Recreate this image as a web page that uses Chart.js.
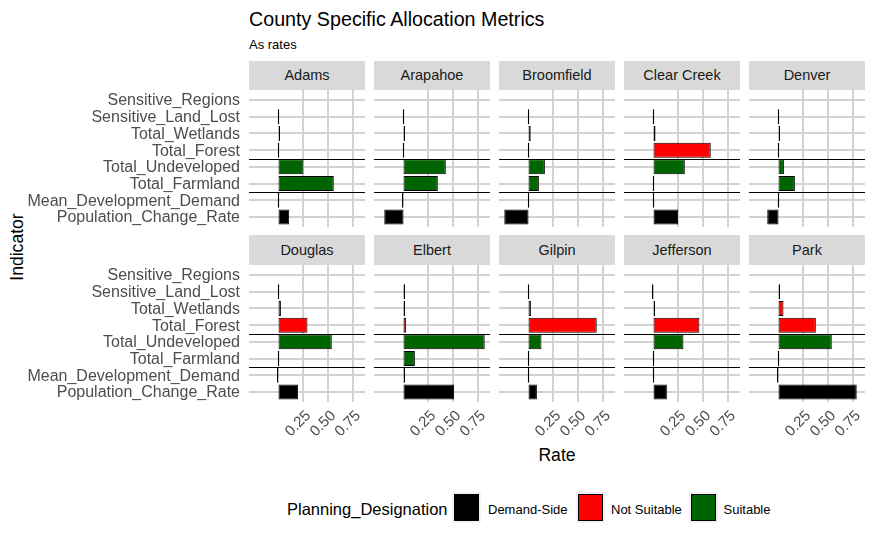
<!DOCTYPE html>
<html><head><meta charset="utf-8">
<script src="https://cdn.jsdelivr.net/npm/chart.js@4.4.1/dist/chart.umd.min.js"></script>
<style>
html,body{margin:0;padding:0;background:#fff;width:875px;height:540px;overflow:hidden;font-family:"Liberation Sans",Arial,sans-serif;}
.t{position:absolute;white-space:nowrap;line-height:1;}
.strip{position:absolute;background:#D9D9D9;color:#1A1A1A;font-size:14.5px;text-align:center;}
.key{position:absolute;width:23px;height:25px;border:1px solid #000;box-shadow:0 0 0 2px #F2F2F2;}
canvas{position:absolute;}
</style></head><body>
<div class="t" style="left:249px;top:9.5px;font-size:19.7px;color:#000;">County Specific Allocation Metrics</div>
<div class="t" style="left:249px;top:38.3px;font-size:13px;color:#000;">As rates</div>
<div class="t" style="left:507px;width:100px;text-align:center;top:446.8px;font-size:17.6px;color:#000;">Rate</div>
<div class="t" style="left:-33px;top:237px;width:100px;height:20px;line-height:20px;text-align:center;font-size:17.6px;color:#000;transform:rotate(-90deg);">Indicator</div>
<div id="legend"></div>
<div id="panels"></div>
<script>
// ---- data ----
const indicators = ['Sensitive_Regions','Sensitive_Land_Lost','Total_Wetlands','Total_Forest','Total_Undeveloped','Total_Farmland','Mean_Development_Demand','Population_Change_Rate'];
const indicatorDesignation = ['Not Suitable','Demand-Side','Not Suitable','Not Suitable','Suitable','Suitable','Demand-Side','Demand-Side'];
const counties = ['Adams','Arapahoe','Broomfield','Clear Creek','Denver','Douglas','Elbert','Gilpin','Jefferson','Park'];
const adams      = [null, 0,      0.008, 0,     0.25,  0.554, 0,      0.107];
const arapahoe   = [null, 0,      0.006, 0,     0.424, 0.344, -0.01, -0.193];
const broomfield = [null, 0,      0.022, 0,     0.164, 0.104, 0,     -0.243];
const clearCreek = [null, 0,      0.02,  0.574, 0.314, 0,     0,      0.247];
const denver     = [null, 0,      0.01,  0,     0.054, 0.164, 0,     -0.113];
const douglas    = [null, 0,      0.024, 0.29,  0.534, 0,     -0.01,  0.197];
const elbert     = [null, 0.01,   0.01,  0.024, 0.814, 0.114, 0.01,   0.507];
const gilpin     = [null, 0,      0.024, 0.684, 0.13,  0,     0,      0.084];
const jefferson  = [null, -0.012, 0.01,  0.46,  0.30,  0,     0,      0.134];
const park       = [null, 0.01,   0.05,  0.374, 0.534, 0,     -0.012, 0.784];
const countyValues = [adams, arapahoe, broomfield, clearCreek, denver, douglas, elbert, gilpin, jefferson, park];
const xTickValues = [0.25, 0.5, 0.75];
const designations = ['Demand-Side','Not Suitable','Suitable'];
const designationColors = ['#000000','#FF0000','#006400'];
const hlineValues = [2.5, 4.5];
const xMin = -0.296, xMax = 0.867;

// ---- layout ----
const FONT = '"Liberation Sans", Arial, sans-serif';
const colLefts = [249, 374, 499, 624, 749];
const rowTops = [90, 265];
const stripTops = [61, 235];
const stripH = [29, 30];
const PW = 116, PH = 137, YW = 249, XH = 50;
const GRID = '#D2D2D2';

const hlinePlugin = {
  id: 'hlines',
  beforeDatasetsDraw(chart) {
    const {ctx, chartArea: a, scales: {y}} = chart;
    ctx.save();
    ctx.strokeStyle = '#000'; ctx.lineWidth = 1;
    hlineValues.forEach(v => {
      const py = Math.round(y.getPixelForValue(v)) + 0.5;
      ctx.beginPath(); ctx.moveTo(a.left, py); ctx.lineTo(a.right, py); ctx.stroke();
    });
    ctx.restore();
  }
};

function zeroPad(s) { s.paddingTop = 0; s.paddingBottom = 0; s.paddingLeft = 0; s.paddingRight = 0; }

const panels = document.getElementById('panels');
counties.forEach((name, k) => {
  const col = k % 5, row = Math.floor(k / 5);
  const showY = col === 0, showX = row === 1;
  const strip = document.createElement('div');
  strip.className = 'strip';
  strip.style.left = colLefts[col] + 'px';
  strip.style.top = stripTops[row] + 'px';
  strip.style.width = PW + 'px';
  strip.style.height = stripH[row] + 'px';
  strip.style.lineHeight = stripH[row] + 'px';
  strip.textContent = name;
  panels.appendChild(strip);

  const cv = document.createElement('canvas');
  const w = PW + (showY ? YW : 0), h = PH + (showX ? XH : 0);
  cv.width = w; cv.height = h;
  cv.style.width = w + 'px'; cv.style.height = h + 'px';
  cv.style.left = (colLefts[col] - (showY ? YW : 0)) + 'px';
  cv.style.top = rowTops[row] + 'px';
  panels.appendChild(cv);

  const vals = countyValues[k];
  new Chart(cv, {
    type: 'bar',
    data: {
      datasets: [{
        data: vals.map((v, i) => ({x: v, y: indicators.length - i})),
        backgroundColor: indicatorDesignation.map(d => designationColors[designations.indexOf(d)]),
        borderColor: '#000000',
        borderWidth: 1,
        borderSkipped: false,
        barPercentage: 0.9,
        categoryPercentage: 1,
        minBarLength: 1.5
      }]
    },
    options: {
      indexAxis: 'y',
      responsive: false,
      maintainAspectRatio: false,
      animation: false,
      events: [],
      layout: {padding: 0},
      plugins: {legend: {display: false}, tooltip: {enabled: false}},
      scales: {
        x: {
          type: 'linear', position: 'bottom', min: xMin, max: xMax, offset: false,
          afterBuildTicks: s => { s.ticks = xTickValues.map(v => ({value: v})); },
          afterFit: s => { s.height = showX ? XH : 0; zeroPad(s); },
          grid: {color: GRID, lineWidth: 2, drawTicks: false, offset: false},
          border: {display: false},
          ticks: {display: showX, autoSkip: false, minRotation: 45, maxRotation: 45, padding: 5,
                  labelOffset: 5, color: '#4D4D4D', font: {size: 15, family: FONT},
                  callback: v => Number(v).toFixed(2)}
        },
        y: {
          type: 'linear', position: 'left', min: 0.4, max: 8.6, offset: false,
          afterBuildTicks: s => { s.ticks = indicators.map((_, i) => ({value: i + 1})); },
          afterFit: s => { s.width = showY ? YW : 0; zeroPad(s); },
          grid: {color: GRID, lineWidth: 2, drawTicks: false, offset: false},
          border: {display: false},
          ticks: {display: showY, autoSkip: false, padding: 9, labelOffset: 1, color: '#4D4D4D', font: {size: 16, family: FONT},
                  callback: v => indicators[indicators.length - v]}
        }
      }
    },
    plugins: [hlinePlugin]
  });
});

// ---- legend ----
const legend = document.getElementById('legend');
const lt = document.createElement('div');
lt.className = 't';
lt.style.cssText = 'left:287px;top:501px;font-size:16.5px;color:#000;';
lt.textContent = 'Planning_Designation';
legend.appendChild(lt);
const keyLefts = [454, 578, 691];
const labelLefts = [488, 611, 723.5];
designations.forEach((d, i) => {
  const key = document.createElement('div');
  key.className = 'key';
  key.style.left = keyLefts[i] + 'px';
  key.style.top = '494px';
  key.style.background = designationColors[i];
  legend.appendChild(key);
  const lab = document.createElement('div');
  lab.className = 't';
  lab.style.cssText = 'left:' + labelLefts[i] + 'px;top:503px;font-size:13px;color:#000;';
  lab.textContent = d;
  legend.appendChild(lab);
});
</script>
</body></html>
